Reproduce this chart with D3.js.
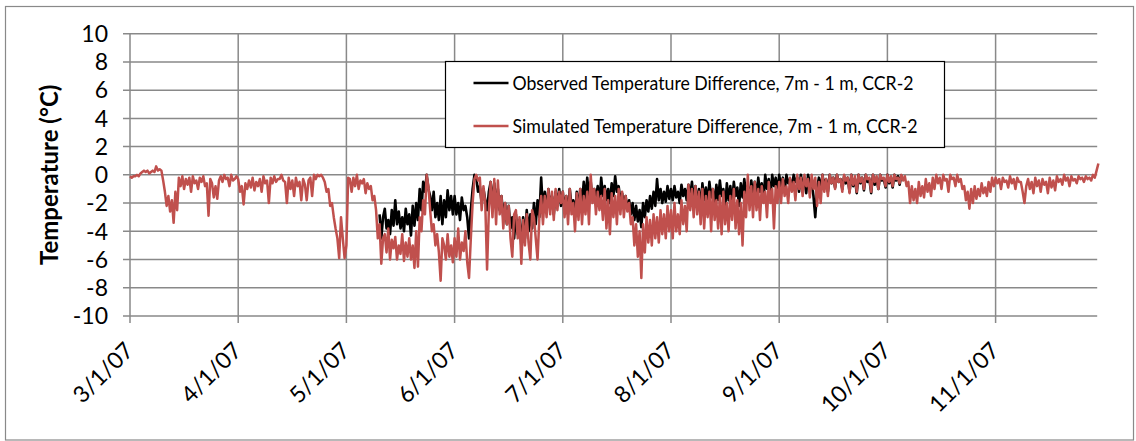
<!DOCTYPE html>
<html>
<head>
<meta charset="utf-8">
<script src="https://cdn.jsdelivr.net/npm/d3@7"></script>
<style>
  body { margin: 0; background: #fff; }
  svg text { font-family: Lato, "Open Sans", sans-serif; fill: #000; }
</style>
</head>
<body>
<svg id="chart" width="1136" height="441"></svg>
<script>
// tick labels on the date axis (one per month)
const monthLabels = ["3/1/07", "4/1/07", "5/1/07", "6/1/07", "7/1/07", "8/1/07", "9/1/07", "10/1/07", "11/1/07"];
const yTicks = [10, 8, 6, 4, 2, 0, -2, -4, -6, -8, -10];

const seriesNames = [
  "Observed Temperature Difference, 7m - 1 m, CCR-2",
  "Simulated Temperature Difference, 7m - 1 m, CCR-2"
];

// simulated 7m - 1m difference, read every 12 hours, one array per month
const simMar = [-0.1,-0.2,-0.1,-0.1,0,-0.1,0.1,0.2,0.3,0.2,0.3,0.1,0.2,0.3,0.2,0.6,0.3,0.4,0.3,-0.4,
  -1.2,-2.2,-1.5,-2.6,-1.8,-3.4,-1.2,-2.5,-0.2,-0.8,-0.1,-1.0,-0.3,-0.7,-0.2,-1.2,-0.1,-0.6,-0.4,-1.0,
  -0.2,-0.5,-0.1,-0.8,-0.6,-2.9,-0.3,-0.6,-1.6,-0.8,-1.7,-0.4,-0.1,-0.5,0,-0.3,-0.2,-0.8,0,-0.4,-0.3,-0.1];
const simApr = [-0.3,-1.2,-0.8,-2.1,-0.6,-1.0,-0.4,-0.9,-0.2,-1.1,-0.5,-0.8,-0.3,-1.2,-0.1,-0.6,-0.4,-2.0,-0.2,-0.6,
  -0.1,-0.5,-0.3,-0.3,0,-0.4,-0.5,-2.0,-0.2,-1.0,-0.4,-1.5,-0.2,-0.8,-0.5,-1.8,-0.3,-0.7,-1.8,-0.4,
  -0.2,-1.5,0,-0.3,0,-0.1,0,-0.2,-0.5,-1.2,-1.0,-2.2,-2.0,-3.0,-3.8,-4.5,-5.9,-3.0,-4.5,-5.9];
const simMay = [-5.0,-0.2,-0.3,-1.2,-0.2,-0.8,0,-1.0,-0.4,-0.6,-0.3,-1.3,-0.6,-1.0,-0.8,-1.8,-1.5,-2.5,-4.5,-3.5,
  -6.3,-4.5,-4.2,-5.5,-3.8,-6.0,-4.6,-5.2,-4.4,-6.0,-5.0,-5.6,-4.2,-6.1,-4.8,-5.8,-4.5,-6.0,-5.0,-6.6,
  -4.0,-6.5,-3.0,-4.0,-1.8,-2.8,0,-0.8,-2.5,-4.0,-3.5,-5.0,-4.2,-5.5,-7.5,-4.5,-5.0,-6.0,-4.2,-5.8,-5.0,-6.2];
const simJun = [-4.5,-5.8,-3.8,-6.0,-4.8,-5.4,-4.0,-6.2,-7.3,-4.5,-2.0,-0.3,0,-0.4,-0.2,-2.5,-0.8,-2.0,-6.7,-2.5,
  -0.5,-3.0,-0.3,-3.5,-0.4,-2.8,-1.5,-3.8,-2.0,-3.5,-2.2,-4.5,-5.8,-2.8,-2.5,-4.5,-3.0,-6.3,-3.2,-5.0,
  -2.8,-4.8,-6.0,-2.5,-3.0,-4.5,-6.0,-3.0,-1.5,-3.5,-1.5,-3.0,-1.0,-2.8,-1.2,-3.2,-1.0,-2.5,-1.2,-2.0];
const simJul = [-1.2,-3.0,-1.5,-3.5,-1.0,-2.8,-2.0,-4.0,-1.3,-3.2,-1.0,-3.5,-1.5,-2.8,-1.2,-3.5,0,-2.0,-1.0,-2.8,
  -1.2,-2.5,-1.5,-3.2,-1.0,-3.8,-1.8,-4.2,-1.3,-3.0,-1.5,-3.5,-1.0,-2.8,-1.2,-3.0,-1.5,-2.6,-2.0,-3.5,
  -3.0,-5.0,-3.5,-5.8,-4.0,-7.3,-3.5,-5.5,-3.0,-4.8,-3.2,-5.0,-2.8,-4.5,-3.0,-4.8,-2.5,-4.2,-2.8,-4.5,-2.2,-4.0];
const simAug = [-2.5,-4.5,-2.0,-4.0,-2.8,-4.2,-1.8,-3.5,-2.2,-4.0,-0.7,-2.5,-1.0,-3.0,-0.8,-2.8,-1.2,-3.5,-1.0,-3.8,
  -1.5,-3.0,-1.2,-4.0,-1.0,-3.2,-1.8,-3.8,-1.5,-4.2,-1.2,-3.5,-2.0,-4.0,-1.5,-3.2,-1.0,-3.8,-1.8,-4.2,
  -2.0,-5.0,-1.2,-3.0,0,-2.5,-0.8,-3.0,-0.5,-2.5,-1.0,-3.2,-0.8,-2.0,-1.2,-3.0,-0.5,-2.0,-1.0,-3.8,-0.8,-2.0];
const simSep = [-0.5,-2.0,-0.3,-1.5,-0.8,-2.0,-0.2,-1.2,-0.5,-1.8,0,-1.0,-0.2,-1.5,0,-0.8,-0.3,-1.6,0,-1.0,
  -0.2,-2.2,-0.5,-2.0,0,-1.2,-0.3,-1.5,0,-0.6,-0.2,-1.0,0,-0.5,-0.3,-1.2,0,-0.4,-0.2,-1.3,
  0,-0.7,-0.1,-1.2,0,-0.5,-0.2,-1.0,0,-0.3,-0.2,-1.2,0,-0.5,-0.1,-1.0,0,-0.3,-0.2,-0.8];
const simOct = [0,-0.5,-0.1,-0.8,0,-0.3,-0.2,-0.6,0,-0.4,-0.1,-0.8,-0.5,-2.0,-0.8,-1.8,-1.0,-2.0,-0.5,-1.5,
  -0.8,-1.6,-0.3,-1.2,-0.6,-1.5,-0.2,-1.0,0,-0.6,-0.2,-1.0,0,-0.4,-0.3,-1.2,0,-0.3,-0.2,-0.8,
  0,-0.5,-0.3,-1.0,-0.8,-1.8,-1.2,-2.4,-1.0,-2.0,-0.8,-1.7,-1.0,-1.5,-0.6,-1.3,-0.9,-1.5,-0.5,-1.2,-0.2,-0.8];
const simNov = [-0.2,-0.6,-0.3,-1.0,-0.2,-0.5,-0.4,-0.9,-0.1,-0.6,-0.3,-1.0,-0.2,-0.5,-0.5,-1.2,-2.0,-0.8,-0.3,-1.0,
  -0.5,-1.3,-0.2,-0.8,-0.4,-1.2,-0.3,-0.7,-0.5,-1.3,-0.2,-0.9,-0.4,-1.1,-0.1,-0.5,-0.3,-0.7,0,-0.4,
  -0.2,-0.8,-0.1,-0.4,-0.3,-0.6,-0.1,-0.3,-0.2,-0.5,-0.1,-0.3,-0.2,-0.4,0,-0.2,0.3,0.8];

// observed difference, same 12 hour spacing, logger starts mid May
const obsMay = [-2.8,-4.5,-3.0,-2.4,-3.8,-3.2,-4.2,-2.5,-3.6,-1.8,-3.5,-2.6,-3.8,-3.0,-4.0,-2.4,-3.5,-2.8,-4.3,-2.2,
  -3.6,-2.0,-3.2,-1.0,-2.5,-0.5,-1.2,0,-1.0,-1.5,-2.5,-1.2,-3.0,-2.0,-3.2,-1.5,-3.5,-1.8,-3.0,-1.1,-2.5,-1.5,-2.8];
const obsJun = [-1.5,-2.8,-2.0,-3.2,-1.6,-2.5,-2.2,-3.0,-4.5,-2.5,-1.0,0,-0.2,-1.2,-0.8,-2.0,-1.0,-1.8,-2.5,-1.2,
  -0.5,-2.0,-0.6,-2.2,-1.0,-2.5,-1.5,-3.0,-2.0,-3.5,-2.2,-3.8,-3.0,-4.5,-2.8,-4.2,-3.2,-5.0,-3.0,-4.5,
  -2.5,-4.0,-2.8,-3.8,-2.0,-3.5,-1.8,-3.0,-0.2,-2.5,-1.2,-2.5,-1.0,-2.2,-1.5,-2.8,-1.2,-2.0,-1.0,-2.2];
const obsJul = [-1.2,-2.5,-1.5,-2.8,-1.0,-2.2,-1.8,-3.0,-1.2,-2.5,-1.0,-2.0,-0.5,-1.8,-0.2,-1.5,-0.5,-1.8,-1.0,-1.6,
  -0.8,-2.0,-0.2,-1.5,-0.8,-1.8,-1.0,-2.0,-0.6,-1.5,-0.1,-1.2,-0.8,-1.8,-1.3,-2.2,-1.5,-2.5,-1.8,-2.8,
  -2.0,-3.2,-2.2,-3.3,-2.5,-3.7,-2.0,-3.0,-1.8,-2.6,-1.5,-2.4,-1.2,-2.2,-0.3,-1.8,-1.0,-2.0,-1.2,-1.9,-0.8,-1.7];
const obsAug = [-1.0,-1.8,-0.8,-1.6,-1.2,-2.0,-0.7,-1.5,-1.0,-1.8,-0.7,-1.5,-0.5,-1.8,-0.8,-2.2,-1.0,-2.5,-0.6,-1.8,
  -0.9,-2.0,-0.5,-1.6,-1.0,-2.2,-0.7,-1.8,-0.4,-1.5,-1.0,-2.4,-0.6,-1.8,-0.8,-2.0,-0.5,-1.5,-0.9,-2.2,
  -0.6,-1.6,-0.3,-1.4,-0.8,-1.8,-0.4,-1.5,-0.5,-1.6,-0.2,-1.2,-0.6,-1.8,0,-1.0,-0.3,-1.5,0,-0.8,-0.2,-1.2];
const obsSep = [0,-0.8,-0.2,-1.2,0,-0.6,-0.3,-1.0,0,-0.5,-0.2,-1.2,0,-0.7,-0.4,-1.3,0,-0.6,-0.5,-1.5,
  -3.0,-1.0,-0.2,-1.0,0,-0.8,-0.3,-1.2,0,-0.6,-0.2,-0.9,0,-0.5,-0.3,-1.0,-0.1,-0.6,-0.2,-1.2,
  0,-0.8,-0.3,-1.3,0,-0.6,-0.2,-1.1,0,-0.5,-0.3,-1.3,0,-0.7,-0.2,-1.0,0,-0.4,-0.3,-0.9];
const obsOct = [0,-0.6,-0.2,-0.9,0,-0.4,-0.1,-0.7,0];

const parseDate = d3.timeParse("%m/%d/%y");
const HALF_DAY = 12 * 3600 * 1000;

// turn [start date, values every 12 h] pieces into one point list
function buildSeries(pieces) {
  const pts = [];
  pieces.forEach(([start, vals]) => {
    const t0 = +start;
    vals.forEach((v, i) => pts.push({ date: new Date(t0 + i * HALF_DAY), value: v }));
  });
  return pts;
}

const simulated = buildSeries([
  [parseDate("3/1/07"), simMar], [parseDate("4/1/07"), simApr], [parseDate("5/1/07"), simMay],
  [parseDate("6/1/07"), simJun], [parseDate("7/1/07"), simJul], [parseDate("8/1/07"), simAug],
  [parseDate("9/1/07"), simSep], [parseDate("10/1/07"), simOct], [parseDate("11/1/07"), simNov]
]);
const observed = buildSeries([
  [new Date(2007, 4, 10, 12), obsMay], [parseDate("6/1/07"), obsJun], [parseDate("7/1/07"), obsJul],
  [parseDate("8/1/07"), obsAug], [parseDate("9/1/07"), obsSep], [parseDate("10/1/07"), obsOct]
]);

const svg = d3.select("#chart");
const plotLeft = 130, monthW = 108.2, plotTop = 33.7, plotBottom = 316;
const gridColor = "#898989";

// month ticks sit at equal spacing, like the source axis
const monthDates = monthLabels.map(parseDate).concat([parseDate("12/1/07")]);
const x = d3.scaleTime()
  .domain(monthDates)
  .range(monthDates.map((d, i) => plotLeft + i * monthW));
const endDate = new Date(2007, 10, 29, 4);
const plotRight = x(endDate);

const y = d3.scaleLinear().domain([-10, 10]).range([plotBottom, plotTop]);

// outer chart border
svg.append("rect")
  .attr("x", 5.5).attr("y", 6.5)
  .attr("width", 1128).attr("height", 433.5)
  .attr("fill", "#fff")
  .attr("stroke", gridColor).attr("stroke-width", 1.2);

// horizontal gridlines
svg.append("g")
  .selectAll("line")
  .data(yTicks)
  .join("line")
  .attr("x1", plotLeft - 7).attr("x2", plotRight)
  .attr("y1", d => y(d)).attr("y2", d => y(d))
  .attr("stroke", gridColor).attr("stroke-width", 1.5);

// vertical gridlines + tick marks
const tickDates = monthLabels.map(parseDate);
svg.append("g")
  .selectAll("line")
  .data(tickDates)
  .join("line")
  .attr("x1", d => x(d)).attr("x2", d => x(d))
  .attr("y1", plotTop).attr("y2", plotBottom + 7)
  .attr("stroke", gridColor).attr("stroke-width", 1.5);

// y tick labels
svg.append("g")
  .selectAll("text")
  .data(yTicks)
  .join("text")
  .attr("x", 108)
  .attr("y", d => y(d))
  .attr("dy", "0.36em")
  .attr("text-anchor", "end")
  .attr("font-size", 23)
  .text(d => d);

// x tick labels, rotated
svg.append("g")
  .selectAll("text")
  .data(tickDates)
  .join("text")
  .attr("text-anchor", "end")
  .attr("font-size", 23)
  .attr("transform", d => `translate(${x(d) + 5},${plotBottom + 36}) rotate(-45)`)
  .text((d, i) => monthLabels[i]);

// axis title
svg.append("text")
  .attr("transform", `translate(58,${(plotTop + plotBottom) / 2}) rotate(-90)`)
  .attr("text-anchor", "middle")
  .attr("font-size", 24)
  .attr("font-weight", "bold")
  .text("Temperature (°C)");

const line = d3.line()
  .x(d => x(d.date))
  .y(d => y(d.value));

svg.append("path")
  .datum(observed)
  .attr("fill", "none")
  .attr("stroke", "#000")
  .attr("stroke-width", 2.6)
  .attr("stroke-linejoin", "round")
  .attr("d", line);

svg.append("path")
  .datum(simulated)
  .attr("fill", "none")
  .attr("stroke", "#c0504d")
  .attr("stroke-width", 2.5)
  .attr("stroke-linejoin", "round")
  .attr("d", line);

// legend
const legend = svg.append("g").attr("transform", "translate(445.5,61.5)");
legend.append("rect")
  .attr("width", 499).attr("height", 86)
  .attr("fill", "#fff").attr("stroke", "#000").attr("stroke-width", 1.2);
const legendColors = ["#000", "#c0504d"];
const legendWidths = [401, 405];
seriesNames.forEach((name, i) => {
  const ly = 21.5 + i * 43;
  legend.append("line")
    .attr("x1", 28).attr("x2", 63)
    .attr("y1", ly).attr("y2", ly)
    .attr("stroke", legendColors[i]).attr("stroke-width", 2.4);
  legend.append("text")
    .attr("x", 67).attr("y", ly)
    .attr("dy", "0.36em")
    .attr("font-size", 20)
    .attr("textLength", legendWidths[i])
    .attr("lengthAdjust", "spacingAndGlyphs")
    .text(name);
});
</script>
</body>
</html>
